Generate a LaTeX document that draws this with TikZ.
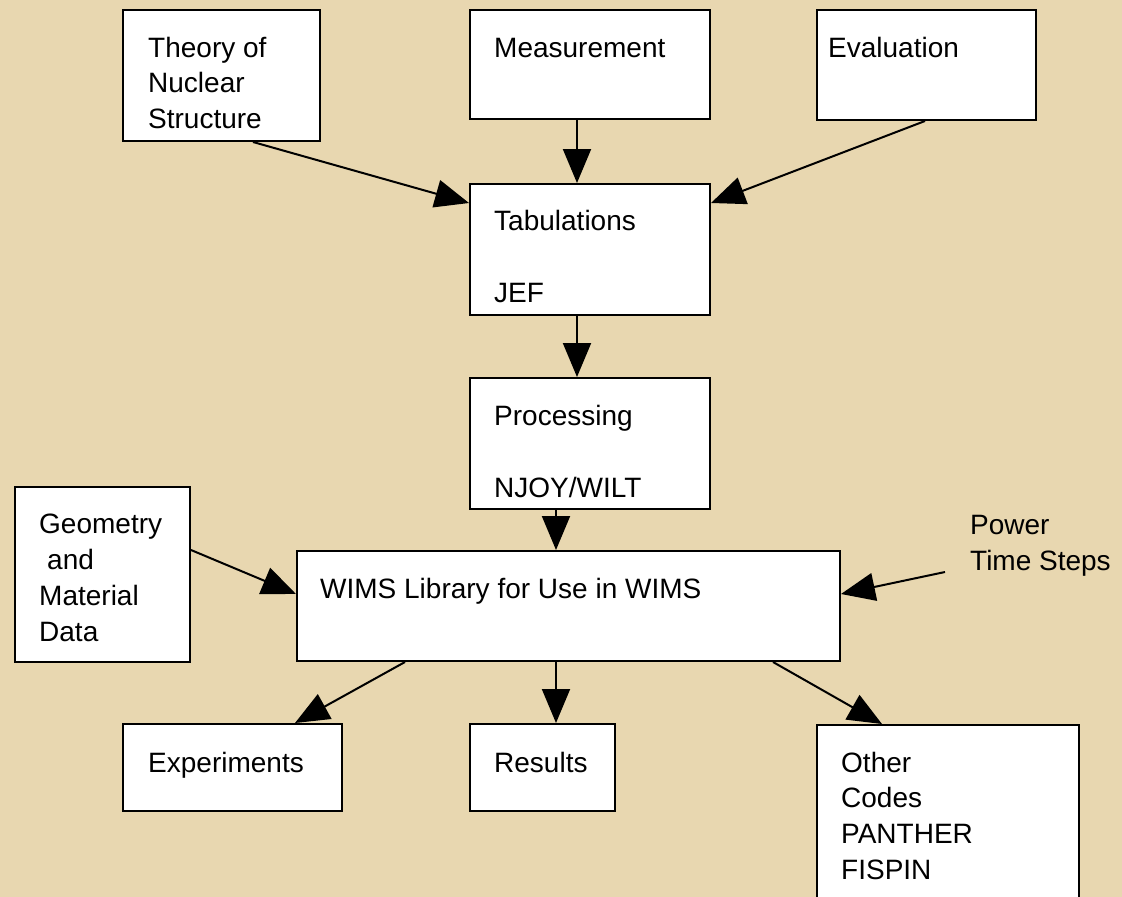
\documentclass[tikz,border=0pt]{standalone}
\usepackage{fontspec}
\setmainfont{Liberation Sans}
\usetikzlibrary{arrows.meta,calc}
\definecolor{bgtan}{RGB}{232,215,176}
\begin{document}
\begin{tikzpicture}[x=1pt,y=-1pt,
  box/.style={draw=black,fill=white,line width=2pt,inner sep=0pt,anchor=north west},
  txt/.style={anchor=base west,inner sep=0pt,font=\fontsize{28}{36}\selectfont},
  arr/.style={line width=2pt,-{Triangle[length=34pt,width=28pt]}}]
\useasboundingbox (0,0) rectangle (1122,897);
\clip (0,0) rectangle (1122,897);
\fill[bgtan] (0,0) rectangle (1122,897);
% boxes
\node[box,minimum width=197pt,minimum height=131pt] (theory) at (122,9) {};
\node[box,minimum width=240pt,minimum height=109pt] (meas) at (469,9) {};
\node[box,minimum width=219pt,minimum height=110pt] (eval) at (816,9) {};
\node[box,minimum width=240pt,minimum height=131pt] (tab) at (469,183) {};
\node[box,minimum width=240pt,minimum height=131pt] (proc) at (469,377) {};
\node[box,minimum width=175pt,minimum height=175pt] (geom) at (14,486) {};
\node[box,minimum width=543pt,minimum height=110pt] (wims) at (296,550) {};
\node[box,minimum width=219pt,minimum height=87pt] (exp) at (122,723) {};
\node[box,minimum width=145pt,minimum height=87pt] (res) at (469,723) {};
\node[box,minimum width=262pt,minimum height=200pt] (other) at (816,724) {};
% texts
\node[txt] (t1) at (148,57) {Theory of};
\node[txt] (t2) at (148,92) {Nuclear};
\node[txt] (t3) at (148,128) {Structure};
\node[txt] (m1) at (494,57) {Measurement};
\node[txt] (e1) at (828,57) {Evaluation};
\node[txt] (ta1) at (494,230) {Tabulations};
\node[txt] (ta2) at (494,302) {JEF};
\node[txt] (p1) at (494,425) {Processing};
\node[txt] (p2) at (494,497) {NJOY/WILT};
\node[txt] (g1) at (39,533) {Geometry};
\node[txt] (g2) at (47,569) {and};
\node[txt] (g3) at (39,605) {Material};
\node[txt] (g4) at (39,641) {Data};
\node[txt] (w1) at (320,598) {WIMS Library for Use in WIMS};
\node[txt] (pw1) at (970,534) {Power};
\node[txt] (pw2) at (970,570) {Time Steps};
\node[txt] (x1) at (148,772) {Experiments};
\node[txt] (r1) at (494,772) {Results};
\node[txt] (o1) at (841,772) {Other};
\node[txt] (o2) at (841,807) {Codes};
\node[txt] (o3) at (841,843) {PANTHER};
\node[txt] (o4) at (841,879) {FISPIN};
% connectors
\coordinate (pws) at (945,572);
\draw[arr] ($(theory.south west)+(131,0)$) -- ($(tab.north west)+(0,20)$);
\coordinate (ms) at ($(meas.south west)+(108,0)$);
\draw[arr] (ms) -- (ms |- tab.north);
\draw[arr] ($(eval.south west)+(109,0)$) -- ($(tab.north east)+(0,20)$);
\coordinate (ts) at ($(tab.south west)+(108,0)$);
\draw[arr] (ts) -- (ts |- proc.north);
\coordinate (ps) at ($(proc.south west)+(87,0)$);
\draw[arr] (ps) -- (ps |- wims.north);
\draw[arr] ($(geom.north east)+(0,64)$) -- ($(wims.north west)+(0,44)$);
\draw[arr] (pws) -- ($(wims.north east)+(0,44)$);
\draw[arr] ($(wims.south west)+(109,0)$) -- ($(exp.north west)+(173,0)$);
\coordinate (wr) at ($(wims.south west)+(260,0)$);
\draw[arr] (wr) -- (wr |- res.north);
\draw[arr] ($(wims.south west)+(477,0)$) -- ($(other.north west)+(66,0)$);
\end{tikzpicture}
\end{document}
